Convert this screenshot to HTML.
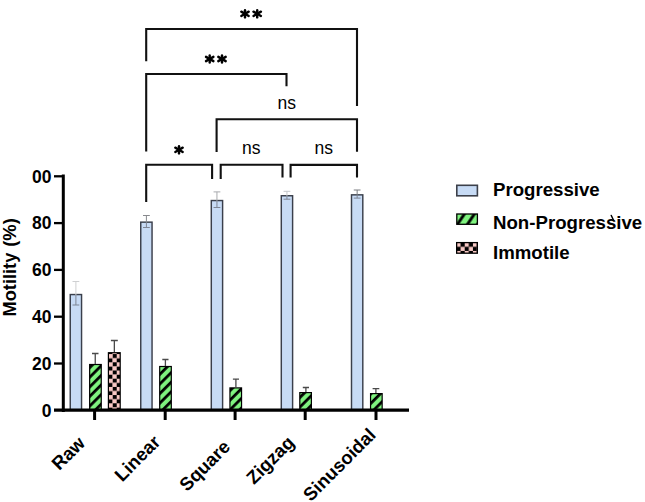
<!DOCTYPE html>
<html><head><meta charset="utf-8">
<style>
html,body{margin:0;padding:0;background:#fff;}
body{width:645px;height:502px;overflow:hidden;}
svg{display:block;}
text{font-family:"Liberation Sans",sans-serif;font-weight:bold;fill:#000;}
.ns{font-weight:normal;}
</style></head>
<body>
<svg width="645" height="502" viewBox="0 0 645 502">
<defs>
  <pattern id="stripe" patternUnits="userSpaceOnUse" width="6.79" height="20" patternTransform="rotate(45)">
    <rect x="0" y="0" width="6.79" height="20" fill="#7ff47f"/>
    <rect x="2.84" y="0" width="2.8" height="20" fill="#000"/>
  </pattern>
  <pattern id="stripeL" patternUnits="userSpaceOnUse" width="8.29" height="30" patternTransform="rotate(34)">
    <rect x="0" y="0" width="8.29" height="30" fill="#7ff47f"/>
    <rect x="5.85" y="0" width="2.9" height="30" fill="#000"/>
    <rect x="-2.44" y="0" width="2.9" height="30" fill="#000"/>
  </pattern>
  <pattern id="checker" patternUnits="userSpaceOnUse" x="1.9" y="1.5" width="8.2" height="8.2">
    <rect x="0" y="0" width="8.2" height="8.2" fill="#000"/>
    <rect x="-0.2" y="-0.2" width="4.5" height="4.5" fill="#f8c8c4"/>
    <rect x="3.9" y="3.9" width="4.5" height="4.5" fill="#f8c8c4"/>
    <rect x="8.0" y="8.0" width="0.3" height="0.3" fill="#f8c8c4"/>
  </pattern>
  <pattern id="checkerL" patternUnits="userSpaceOnUse" x="5.5" y="4.9" width="8.2" height="8.2">
    <rect x="0" y="0" width="8.2" height="8.2" fill="#000"/>
    <rect x="0" y="0" width="4.1" height="4.1" fill="#f8c8c4"/>
    <rect x="4.1" y="4.1" width="4.1" height="4.1" fill="#f8c8c4"/>
  </pattern>
  <g id="ast">
    <line x1="0" y1="-3.6" x2="0" y2="3.6"/>
    <line x1="-3.7" y1="-2.15" x2="3.7" y2="2.15"/>
    <line x1="-3.7" y1="2.15" x2="3.7" y2="-2.15"/>
  </g>
</defs>

<!-- significance brackets -->
<g stroke="#111" stroke-width="2.1" fill="none" stroke-linecap="butt">
  <path d="M146.2 61.2 V29 H357 V106"/>
  <path d="M146.2 151.6 V74 H286.5 V86.3"/>
  <path d="M216.6 152 V119.3 H357 V151.7"/>
  <path d="M146.2 202 V164.7 H212.1 V178.9"/>
  <path d="M220.7 178.9 V164.7 H282.5 V177.5"/>
  <path d="M290.6 177.5 V164.9 H357 V177.5"/>
</g>
<g stroke="#000" stroke-width="2.4" stroke-linecap="round">
  <use href="#ast" x="245" y="13.8"/>
  <use href="#ast" x="257.2" y="13.8"/>
  <use href="#ast" x="209.7" y="59"/>
  <use href="#ast" x="222" y="59"/>
  <use href="#ast" x="179" y="149.8"/>
</g>
<text class="ns" x="286.7" y="108.5" font-size="17.5" text-anchor="middle">ns</text>
<text class="ns" x="251.3" y="153.8" font-size="17.5" text-anchor="middle">ns</text>
<text class="ns" x="323.7" y="153.8" font-size="17.5" text-anchor="middle">ns</text>

<!-- bars: blue -->
<g fill="#c7dbf5" stroke="#3a3f4b" stroke-width="1.45">
  <rect x="70.25" y="294.55" width="11.30" height="115.65"/>
  <rect x="140.75" y="222.15" width="11.30" height="188.05"/>
  <rect x="211.30" y="200.55" width="11.30" height="209.65"/>
  <rect x="281.30" y="195.75" width="11.30" height="214.45"/>
  <rect x="351.50" y="194.85" width="11.30" height="215.35"/>
</g>
<!-- blue error bars -->
<g stroke-width="1" fill="none">
  <path stroke="#cfd0d2" d="M72.50 281.5 H79.30 M75.90 281.5 V295.2"/>
  <path stroke="#888a8e" d="M143.00 215.5 H149.80 M146.40 215.5 V222.8"/>
  <path stroke="#a8aaae" d="M213.55 191.9 H220.35 M216.95 191.9 V201.2"/>
  <path stroke="#c4c6ca" d="M283.55 191.3 H290.35 M286.95 191.3 V196.4"/>
  <path stroke="#7c7e82" d="M353.75 190 H360.55 M357.15 190 V195.5"/>
</g>
<g stroke="#7d8594" stroke-width="1" fill="none">
  <path d="M75.90 295.2 V305 M72.50 305 H79.30 M146.40 222.8 V227.5 M143.00 227.5 H149.80 M216.95 201.2 V207.5 M213.55 207.5 H220.35 M286.95 196.4 V199.2 M283.55 199.2 H290.35 M357.15 195.5 V198.1 M353.75 198.1 H360.55"/>
</g>
<!-- green bars -->
<g fill="url(#stripe)" stroke="#000" stroke-width="1.2">
  <rect x="89.65" y="364.50" width="11.60" height="45.70"/>
  <rect x="159.70" y="366.50" width="11.60" height="43.70"/>
  <rect x="229.95" y="387.90" width="11.60" height="22.30"/>
  <rect x="299.80" y="392.60" width="11.60" height="17.60"/>
  <rect x="370.55" y="393.60" width="11.60" height="16.60"/>
</g>
<rect x="108.40" y="352.70" width="11.80" height="57.50" fill="url(#checker)" stroke="#000" stroke-width="1.2"/>
<!-- dark error bars -->
<g stroke="#4a4a4a" stroke-width="1.3" fill="none">
  <path d="M92 353.5 H98.5 M95.25 353.5 V364"/>
  <path d="M162.3 359.5 H168.5 M165.4 359.5 V366"/>
  <path d="M232.9 379.1 H239 M235.9 379.1 V387"/>
  <path d="M302.8 387.5 H309 M305.9 387.5 V392"/>
  <path d="M372.6 388.6 H379.3 M375.9 388.6 V393"/>
  <path d="M110.9 340.5 H117.8 M114.35 340.5 V352"/>
</g>

<!-- axes -->
<g stroke="#000" fill="none">
  <path d="M63.3 174.5 V412" stroke-width="3"/>
  <path d="M54 410.2 H409" stroke-width="3.2"/>
  <g stroke-width="2.3">
    <path d="M54 176.3 H63"/>
    <path d="M54 223.1 H63"/>
    <path d="M54 269.9 H63"/>
    <path d="M54 316.7 H63"/>
    <path d="M54 363.5 H63"/>
  </g>
  <g stroke-width="3">
    <path d="M94.6 410 V420"/>
    <path d="M165.2 410 V420"/>
    <path d="M235.1 410 V420"/>
    <path d="M305.2 410 V420"/>
    <path d="M376 410 V420"/>
  </g>
</g>
<g font-size="17.5" text-anchor="end">
  <text x="51.5" y="182.5">00</text>
  <text x="51.5" y="229.3">80</text>
  <text x="51.5" y="276.1">60</text>
  <text x="51.5" y="322.9">40</text>
  <text x="51.5" y="369.7">20</text>
  <text x="51.5" y="416.7">0</text>
</g>
<text font-size="18.2" transform="translate(15.8,316.4) rotate(-90)">Motility</text>
<text font-size="18.4" transform="translate(15.8,246.8) rotate(-90)">(%)</text>

<!-- x labels -->
<g font-size="18.5" text-anchor="end">
  <text transform="translate(86.25,444.2) rotate(-45)">Raw</text>
  <text transform="translate(161.5,443.2) rotate(-45)">Linear</text>
  <text transform="translate(231.35,448) rotate(-45)">Square</text>
  <text transform="translate(295.4,443.8) rotate(-45)">Zigzag</text>
  <text transform="translate(377,436) rotate(-45)">Sinusoidal</text>
</g>

<!-- legend -->
<rect x="456.8" y="185.3" width="20.6" height="10.5" fill="#c7dbf5" stroke="#3c404a" stroke-width="1.6"/>
<rect x="456.8" y="214" width="20.6" height="10.3" fill="url(#stripeL)" stroke="#000" stroke-width="1.3"/>
<rect x="456.65" y="242.6" width="20.7" height="10.6" fill="url(#checkerL)" stroke="#000" stroke-width="1.3"/>
<g font-size="18.65">
  <text x="493" y="195.6">Progressive</text>
  <text x="493" y="228.9">Non-Progressive</text>
  <text x="493" y="259.2">Immotile</text>
</g>
<path d="M611.2 215.4 L613.6 220.2" stroke="#000" stroke-width="1.4" stroke-linecap="round"/>
</svg>
</body></html>
